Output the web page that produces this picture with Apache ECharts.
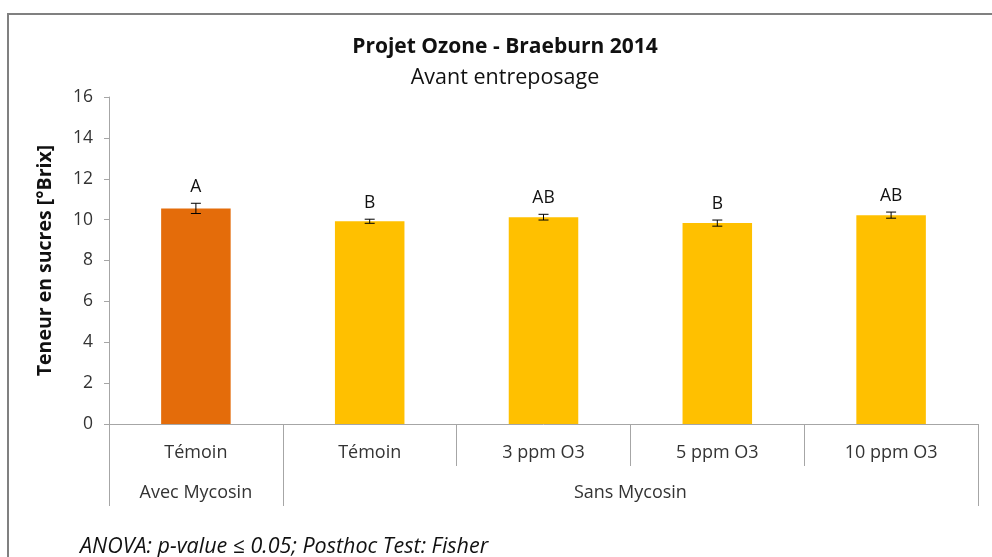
<!DOCTYPE html>
<html>
<head>
<meta charset="utf-8">
<script src="https://cdn.jsdelivr.net/npm/echarts@6/dist/echarts.min.js"></script>
<style>
html,body{margin:0;padding:0;background:#fff;}
#chart{width:992px;height:557px;}
</style>
</head>
<body>
<div id="chart"></div>
<script>
// ---- data ----
var categories = ['Témoin', 'Témoin', '3 ppm O3', '5 ppm O3', '10 ppm O3'];
var values = [10.55, 9.92, 10.12, 9.83, 10.22];
var errors = [0.25, 0.10, 0.14, 0.15, 0.15];
var letters = ['A', 'B', 'AB', 'B', 'AB'];
var groupNames = ['Avec Mycosin', 'Sans Mycosin'];
var groupSpans = [1, 4];
var yTicks = [0, 2, 4, 6, 8, 10, 12, 14, 16];
var titleText = 'Projet Ozone - Braeburn 2014';
var subtitleText = 'Avant entreposage';
var yAxisTitle = 'Teneur en sucres [°Brix]';
var noteText = 'ANOVA: p-value ≤ 0.05; Posthoc Test: Fisher';

// ---- derived ----
var groupColors = ['#E46C0A', '#FFC000'];
var catGroup = [];
var groupTickPos = [0];
var groupLabelPos = [];
var acc = 0;
groupSpans.forEach(function (s, g) {
  for (var i = 0; i < s; i++) catGroup.push(g);
  groupLabelPos.push(acc + s / 2);
  acc += s;
  groupTickPos.push(acc);
});

var FONT = 'Open Sans';
var LABEL = '#333333';
var DARK = '#111111';
var AXIS = '#A6A6A6';

var chart = echarts.init(document.getElementById('chart'));
chart.setOption({
  animation: false,
  backgroundColor: '#fff',
  textStyle: { fontFamily: FONT },
  title: [
    { text: titleText, left: 505, top: 37, textAlign: 'center', padding: 0,
      textStyle: { fontFamily: FONT, fontWeight: 'bold', fontSize: 21, color: DARK } },
    { text: subtitleText, left: 505, top: 67, textAlign: 'center', padding: 0,
      textStyle: { fontFamily: FONT, fontWeight: 'normal', fontSize: 21.5, color: DARK } }
  ],
  grid: { left: 109, right: 14, top: 97, bottom: 133, containLabel: false },
  xAxis: [
    {
      type: 'category', data: categories, position: 'bottom',
      axisLine: { show: true, lineStyle: { color: AXIS, width: 1 } },
      axisTick: { show: true, interval: 0, length: 42, lineStyle: { color: AXIS } },
      axisLabel: { interval: 0, margin: 20, fontSize: 18, color: LABEL, fontFamily: FONT },
      splitLine: { show: false }
    },
    {
      type: 'value', min: 0, max: categories.length, position: 'bottom', offset: 42,
      axisLine: { show: false },
      axisTick: { show: true, customValues: groupTickPos, length: 40, lineStyle: { color: AXIS } },
      axisLabel: {
        show: true, customValues: groupLabelPos, margin: 18, fontSize: 18, color: LABEL, fontFamily: FONT,
        formatter: function (v) {
          var i = groupLabelPos.indexOf(v);
          return i >= 0 ? groupNames[i] : '';
        }
      },
      splitLine: { show: false }
    }
  ],
  yAxis: {
    type: 'value', min: yTicks[0], max: yTicks[yTicks.length - 1], interval: yTicks[1] - yTicks[0],
    name: yAxisTitle, nameLocation: 'middle', nameGap: 54, nameRotate: 90,
    nameTextStyle: { fontFamily: FONT, fontWeight: 'bold', fontSize: 19.5, color: DARK },
    axisLine: { show: true, lineStyle: { color: AXIS } },
    axisTick: { show: true, length: 5, lineStyle: { color: AXIS } },
    axisLabel: { margin: 16, fontSize: 17.5, color: LABEL, fontFamily: FONT },
    splitLine: { show: false }
  },
  series: [
    {
      type: 'bar', xAxisIndex: 0, yAxisIndex: 0, barWidth: '40%',
      data: values.map(function (v, i) {
        return { value: v, itemStyle: { color: groupColors[catGroup[i]] } };
      })
    },
    {
      type: 'custom', xAxisIndex: 0, yAxisIndex: 0, z: 5,
      data: values.map(function (v, i) { return [i, v, errors[i]]; }),
      encode: { x: 0, y: 1 },
      renderItem: function (params, api) {
        var x = api.value(0), v = api.value(1), e = api.value(2);
        var top = api.coord([x, v + e]);
        var bot = api.coord([x, v - e]);
        var hw = 5;
        var style = { stroke: '#000', lineWidth: 1 };
        return {
          type: 'group',
          children: [
            { type: 'line', shape: { x1: top[0], y1: top[1], x2: bot[0], y2: bot[1] }, style: style },
            { type: 'line', shape: { x1: top[0] - hw, y1: top[1], x2: top[0] + hw, y2: top[1] }, style: style },
            { type: 'line', shape: { x1: bot[0] - hw, y1: bot[1], x2: bot[0] + hw, y2: bot[1] }, style: style },
            { type: 'text', x: top[0], y: top[1] - 16,
              style: { text: letters[params.dataIndex], textAlign: 'center', textVerticalAlign: 'middle',
                       fontFamily: FONT, fontSize: 17.5, fill: DARK } }
          ]
        };
      }
    }
  ],
  graphic: [
    { type: 'rect', z: 100, silent: true,
      shape: { x: 8, y: 14, width: 1100, height: 700 },
      style: { fill: 'none', stroke: '#808080', lineWidth: 2 } },
    { type: 'text', left: 80, top: 536,
      style: { text: noteText, fontFamily: FONT, fontStyle: 'italic', fontSize: 21.5, fill: DARK } }
  ]
});
</script>
</body>
</html>
